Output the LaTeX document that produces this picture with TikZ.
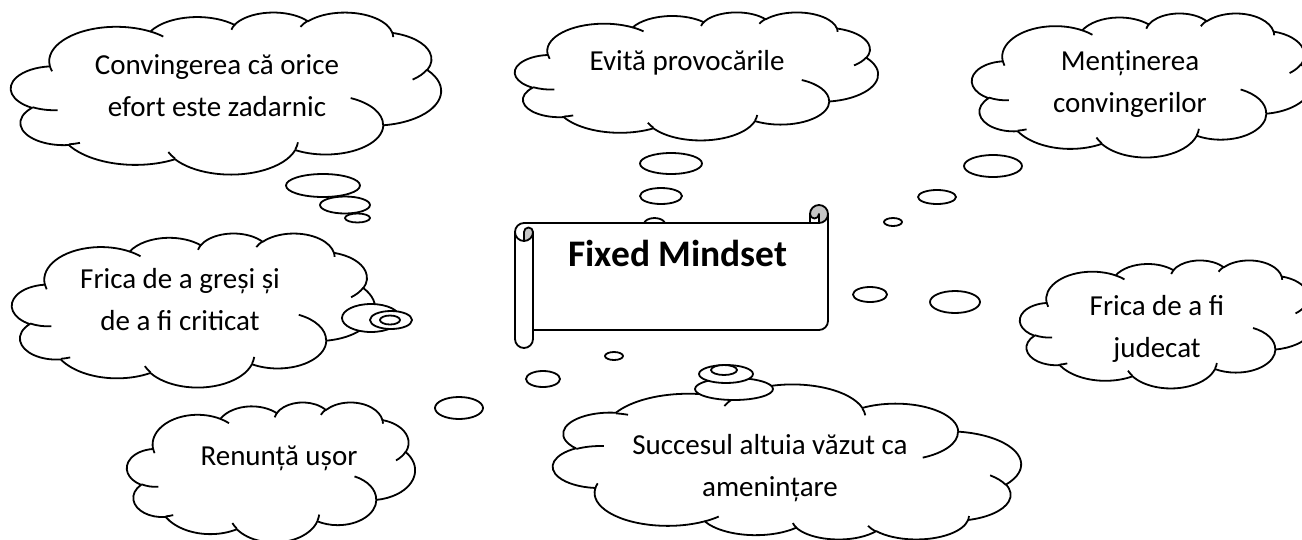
\documentclass[tikz,border=0pt]{standalone}
\usepackage{fontspec}
\setmainfont{Carlito}

% visual (ray) angle -> parametric angle on an ellipse
\pgfmathdeclarefunction{visang}{3}{%
  \pgfmathparse{#1+Mod(atan2(#2*sin(#1),#3*cos(#1))-#1+180,360)-180}%
}
\newcommand{\carc}[4]{arc[x radius=#1, y radius=#2, start angle={visang(#3,#1,#2)}, end angle={visang(#3+#4,#1,#2)}]}

% cloud in a 432 x 432 box: [extra options] left, top, width, height
\newcommand{\wordcloud}[5][]{%
  \pgfmathsetmacro\cloudxu{#4/432}%
  \pgfmathsetmacro\cloudyu{#5/432}%
  \begin{scope}[shift={(#2,#3)}, x=\cloudxu pt, y=-\cloudyu pt, #1]
    \draw[cloudline, fill=white] (39.00,143.70)
      \carc{67.53}{91.90}{-190.4875}{123.7805}
      \carc{53.33}{72.67}{-144.1024}{89.9452}
      \carc{43.65}{59.45}{-145.8079}{99.7230}
      \carc{48.57}{65.95}{-130.9861}{117.2417}
      \carc{53.33}{72.73}{-78.7089}{109.0269}
      \carc{67.75}{92.20}{-46.2673}{130.2690}
      \carc{57.85}{78.67}{0.6250}{114.0333}
      \carc{67.52}{92.15}{22.4516}{115.1726}
      \carc{77.20}{105.43}{66.2426}{75.7110}
      \carc{43.60}{59.18}{-274.9421}{146.7356}
      \carc{43.45}{59.45}{-246.8285}{152.5189}
      -- cycle;
    % inner puff lines
    \draw[cloudline]
      (46.93,261.77) \carc{43.45}{59.45}{86.7420}{26.4295}
      (69.28,348.99) \carc{43.60}{59.18}{73.6105}{11.4475}
      (164.78,390.90) \carc{67.52}{92.15}{137.6242}{14.0811}
      (288.27,347.51) \carc{67.52}{92.15}{6.4533}{15.9984}
      (341.29,229.54) \carc{57.85}{78.67}{-70.2924}{70.9174}
      (417.98,153.54) \carc{53.33}{72.73}{30.3180}{27.7515}
      (383.24,54.26) \carc{48.57}{65.95}{-13.7443}{14.8589}
      (290.78,39.52) \carc{48.57}{65.95}{-149.1815}{18.1954}
      (221.41,47.20) \carc{43.65}{59.45}{-163.4943}{17.6864}
      (140.00,51.92) \carc{67.53}{91.90}{-66.7070}{12.3194}
      (41.27,157.89) \carc{67.53}{91.90}{157.6544}{11.8582};
  \end{scope}}

\begin{document}
\begin{tikzpicture}[
    x=1pt, y=-1pt, % pixel units, y pointing down
    cloudline/.style={line width=1.8pt, line join=round},
    bubble/.style={cloudline, fill=white},
    flipped/.style={shift={(0,432)}, yscale=-1},
    thought/.style={font=\fontsize{29}{42}\selectfont, align=center, inner sep=0pt},
    title/.style={font=\fontsize{37.5}{43}\selectfont\bfseries, inner sep=0pt}
]
\colorlet{rollgray}{gray!45}

    \path[use as bounding box, fill=white] (0,0) rectangle (1302,539);
    \clip (0,0) rectangle (1302,539);

%    ############# CLOUDS
    \wordcloud{11}{12}{430}{162}   % Convingerea
    \wordcloud{515}{12}{363}{128}  % Evita
    \wordcloud{972}{13}{340}{144}  % Mentinerea
    \wordcloud{12}{233}{363}{154}  % Frica de a gresi
    \wordcloud{1020}{260}{295}{128} % Frica de a fi judecat
    \wordcloud{127}{402}{288}{140} % Renunta
    \wordcloud[flipped]{553}{385}{468}{155} % Succesul (upside down)

%    ############# BUBBLES
    \draw[bubble] (323,185.5) ellipse [x radius=37, y radius=11.5];
    \draw[bubble] (345,205) ellipse [x radius=25, y radius=8.5];
    \draw[bubble] (357.5,218) ellipse [x radius=12.5, y radius=4.5];

    \draw[bubble] (671,163.5) ellipse [x radius=31, y radius=10.5];
    \draw[bubble] (661,196) ellipse [x radius=21, y radius=8];
    \draw[bubble] (654.5,224) ellipse [x radius=10.5, y radius=6];

    \draw[bubble] (993,166) ellipse [x radius=29, y radius=11];
    \draw[bubble] (937,197) ellipse [x radius=19, y radius=7];
    \draw[bubble] (893,222) ellipse [x radius=9, y radius=4];

    \draw[bubble] (371,318) ellipse [x radius=29, y radius=14];
    \draw[bubble] (391,320) ellipse [x radius=21, y radius=9];
    \draw[bubble] (390,320) ellipse [x radius=10, y radius=4.5];

    \draw[bubble] (870,294.5) ellipse [x radius=17, y radius=7.5];
    \draw[bubble] (955,302) ellipse [x radius=25, y radius=11];

    \draw[bubble] (459,408) ellipse [x radius=24, y radius=11];
    \draw[bubble] (543,379) ellipse [x radius=17, y radius=8];
    \draw[bubble] (614,356) ellipse [x radius=9, y radius=4];

    \draw[bubble] (734,389) ellipse [x radius=39, y radius=11];
    \draw[bubble] (726,374) ellipse [x radius=27, y radius=9];
    \draw[bubble] (724,370) ellipse [x radius=13, y radius=5];

%    ############# SCROLL
    \begin{scope}[shift={(515,205)}]
      \fill[white] (0,27) arc[start angle=180, end angle=270, radius=9] -- (295,18) -- (295,9)
        arc[start angle=180, end angle=360, radius=9] -- (313,116)
        arc[start angle=0, end angle=90, radius=9] -- (18,125) -- (18,134)
        arc[start angle=0, end angle=180, radius=9] -- cycle;
      % curled ends
      \fill[rollgray] (9,36) arc[start angle=90, end angle=0, radius=9]
        arc[start angle=0, end angle=-180, radius=4.5] -- cycle;
      \fill[rollgray] (304,18) arc[start angle=90, end angle=-180, radius=9]
        arc[start angle=180, end angle=0, radius=4.5] -- cycle;
      \draw[cloudline] (0,27) arc[start angle=180, end angle=270, radius=9] -- (295,18) -- (295,9)
        arc[start angle=180, end angle=360, radius=9] -- (313,116)
        arc[start angle=0, end angle=90, radius=9] -- (18,125) -- (18,134)
        arc[start angle=0, end angle=180, radius=9] -- cycle;
      \draw[cloudline] (295,18) -- (304,18) arc[start angle=90, end angle=0, radius=9];
      \draw[cloudline] (304,18) -- (304,9) arc[start angle=0, end angle=180, radius=4.5];
      \draw[cloudline] (9,36) -- (9,27) arc[start angle=180, end angle=360, radius=4.5]
        arc[start angle=0, end angle=180, radius=9];
      \draw[cloudline] (18,27) -- (18,125);
    \end{scope}

%    ############# TEXTS
    \node[thought] (convingerea) at (217,86) {Convingerea că orice\\efort este zadarnic};
    \node[thought] (evita) at (687,63) {Evită provocările};
    \node[thought] (mentinerea) at (1130,84) {Menținerea\\convingerilor};
    \node[thought] (gresi) at (180,300) {Frica de a greși și\\de a fi criticat};
    \node[thought] (judecat) at (1157,329) {Frica de a fi\\judecat};
    \node[thought] (renunta) at (279,458) {Renunță ușor};
    \node[thought] (succesul) at (770,468) {Succesul altuia văzut ca\\amenințare};
    \node[title] (mindset) at (678,253) {Fixed Mindset};

\end{tikzpicture}
\end{document}
